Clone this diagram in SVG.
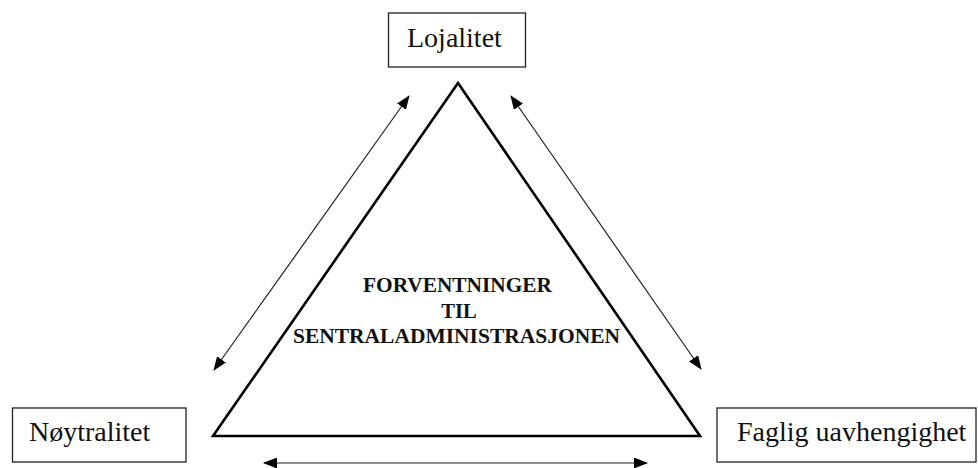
<svg xmlns="http://www.w3.org/2000/svg" width="978" height="468" viewBox="0 0 978 468">
<style>
.box{fill:#fff;stroke:#222;stroke-width:1.3}
.lbl{font-family:"Liberation Serif","Times New Roman",serif;font-size:28px;fill:#111}
.ctr{font-family:"Liberation Serif","Times New Roman",serif;font-size:20.5px;font-weight:bold;fill:#111}
.conn{stroke:#222;stroke-width:1.2;fill:none}
.tri{fill:none;stroke:#000;stroke-width:2.6;stroke-linejoin:miter}
</style>
<defs>
<marker id="ah" markerUnits="userSpaceOnUse" markerWidth="14" markerHeight="11" refX="13" refY="5.5" orient="auto-start-reverse">
<path d="M0,0 L14,5.5 L0,11 z" fill="#000"/>
</marker>
</defs>
<rect width="978" height="468" fill="#fff"/>
<g id="triangle">
<polygon class="tri" points="458,83 700,436 213,436"/>
<text class="ctr" x="457.5" y="292" text-anchor="middle" textLength="189" lengthAdjust="spacingAndGlyphs">FORVENTNINGER</text>
<text class="ctr" x="459" y="318" text-anchor="middle">TIL</text>
<text class="ctr" x="456.5" y="343" text-anchor="middle" textLength="327" lengthAdjust="spacingAndGlyphs">SENTRALADMINISTRASJONEN</text>
</g>
<g id="lojalitet">
<rect class="box" x="388.5" y="13" width="137" height="54"/>
<text class="lbl" x="407" y="47">Lojalitet</text>
</g>
<g id="noytralitet">
<rect class="box" x="12.5" y="408" width="173.5" height="54"/>
<text class="lbl" x="29" y="441">Nøytralitet</text>
</g>
<g id="faglig">
<rect class="box" x="717" y="408" width="259" height="54"/>
<text class="lbl" x="737" y="441">Faglig uavhengighet</text>
</g>
<g id="connectors">
<line class="conn" x1="214" y1="370" x2="409" y2="96" marker-start="url(#ah)" marker-end="url(#ah)"/>
<line class="conn" x1="511" y1="96" x2="701" y2="369" marker-start="url(#ah)" marker-end="url(#ah)"/>
<line class="conn" x1="264" y1="463" x2="647" y2="463" marker-start="url(#ah)" marker-end="url(#ah)"/>
</g>
</svg>
